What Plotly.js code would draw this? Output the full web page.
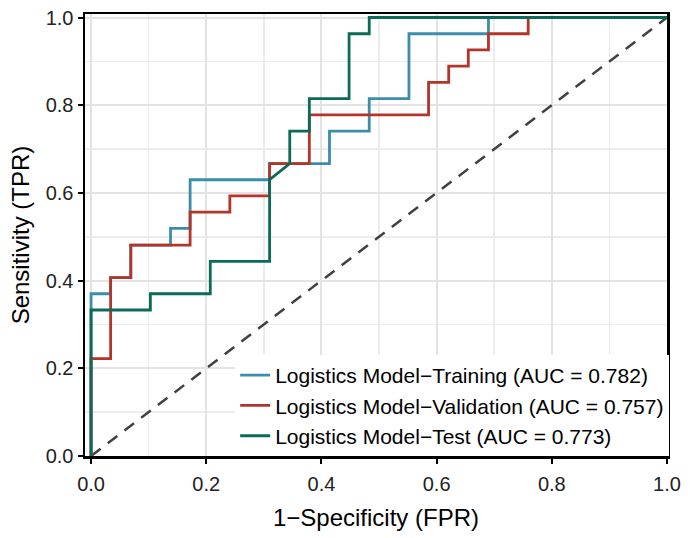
<!DOCTYPE html>
<html>
<head>
<meta charset="utf-8">
<script src="https://cdn.plot.ly/plotly-3.0.1.min.js"></script>
<style>
  html, body { margin: 0; padding: 0; background: #ffffff; }
  #roc { width: 690px; height: 538px; }
</style>
</head>
<body>
<div id="roc"></div>
<script>
// ROC points (false positive rate, true positive rate) for each data split
const trainFpr = [0, 0, 0.034, 0.034, 0.069, 0.069, 0.138, 0.138, 0.172, 0.172, 0.310, 0.310, 0.414, 0.414, 0.483, 0.483, 0.552, 0.552, 0.690, 0.690, 1];
const trainTpr = [0, 0.370, 0.370, 0.407, 0.407, 0.481, 0.481, 0.519, 0.519, 0.630, 0.630, 0.667, 0.667, 0.741, 0.741, 0.815, 0.815, 0.963, 0.963, 1, 1];

const validFpr = [0, 0, 0.034, 0.034, 0.069, 0.069, 0.172, 0.172, 0.241, 0.241, 0.310, 0.310, 0.379, 0.379, 0.586, 0.586, 0.621, 0.621, 0.655, 0.655, 0.690, 0.690, 0.759, 0.759, 1];
const validTpr = [0, 0.222, 0.222, 0.407, 0.407, 0.481, 0.481, 0.556, 0.556, 0.593, 0.593, 0.667, 0.667, 0.778, 0.778, 0.852, 0.852, 0.889, 0.889, 0.926, 0.926, 0.963, 0.963, 1, 1];

const testFpr = [0, 0, 0.103, 0.103, 0.207, 0.207, 0.310, 0.310, 0.345, 0.345, 0.379, 0.379, 0.448, 0.448, 0.483, 0.483, 1];
const testTpr = [0, 0.333, 0.333, 0.370, 0.370, 0.444, 0.444, 0.630, 0.667, 0.741, 0.741, 0.815, 0.815, 0.963, 0.963, 1, 1];

const aucValues = [0.782, 0.757, 0.773];
const splitNames = ["Training", "Validation", "Test"];
const curveColors = ["#3B8DAB", "#B5342A", "#0B6A58"];

const refX = [0, 1];
const refY = [0, 1];

const axisTicks = [0, 0.2, 0.4, 0.6, 0.8, 1.0];

const curves = [[trainFpr, trainTpr], [validFpr, validTpr], [testFpr, testTpr]];

// chance line
const traces = [{
  x: refX, y: refY, type: "scatter", mode: "lines", showlegend: false, hoverinfo: "skip",
  line: { color: "#404040", width: 2.5, dash: "12px,9px" }
}];

curves.forEach(function (c, i) {
  traces.push({
    x: c[0], y: c[1], type: "scatter", mode: "lines",
    name: "Logistics Model\u2212" + splitNames[i] + " (AUC = " + aucValues[i].toFixed(3) + ")",
    line: { color: curveColors[i], width: 2.8, shape: "linear" }
  });
});

const fontFam = "Liberation Sans, Arial, sans-serif";

const axisCommon = {
  tickvals: axisTicks,
  tickformat: ".1f",
  showgrid: true,
  gridcolor: "#e3e3e3",
  gridwidth: 2,
  minor: { dtick: 0.1, showgrid: true, gridcolor: "#ececec", gridwidth: 1.5, ticks: "" },
  zeroline: false,
  showline: true,
  mirror: true,
  linecolor: "#000000",
  linewidth: 2.5,
  ticks: "outside",
  ticklen: 5,
  tickwidth: 2,
  tickcolor: "#000000",
  tickfont: { family: fontFam, size: 20, color: "#222222" }
};

const layout = {
  width: 690,
  height: 538,
  margin: { l: 85, r: 23, t: 14, b: 82, autoexpand: false },
  paper_bgcolor: "#ffffff",
  plot_bgcolor: "#ffffff",
  font: { family: fontFam, color: "#000000" },
  xaxis: Object.assign({}, axisCommon, {
    range: [-0.0105, 1.0],
    ticklabelstandoff: 3,
    title: { text: "1\u2212Specificity (FPR)", font: { family: fontFam, size: 24, color: "#000000" }, standoff: 16 }
  }),
  yaxis: Object.assign({}, axisCommon, {
    range: [0, 1.008],
    title: { text: "Sensitivity (TPR)", font: { family: fontFam, size: 24, color: "#000000" }, standoff: 10 }
  }),
  legend: {
    x: 0.258, y: 0.0, xanchor: "left", yanchor: "bottom",
    bgcolor: "#ffffff", borderwidth: 0,
    font: { family: fontFam, size: 21, color: "#000000" }
  },
  showlegend: true
};

Plotly.newPlot("roc", traces, layout, { displayModeBar: false, staticPlot: true });
</script>
</body>
</html>
